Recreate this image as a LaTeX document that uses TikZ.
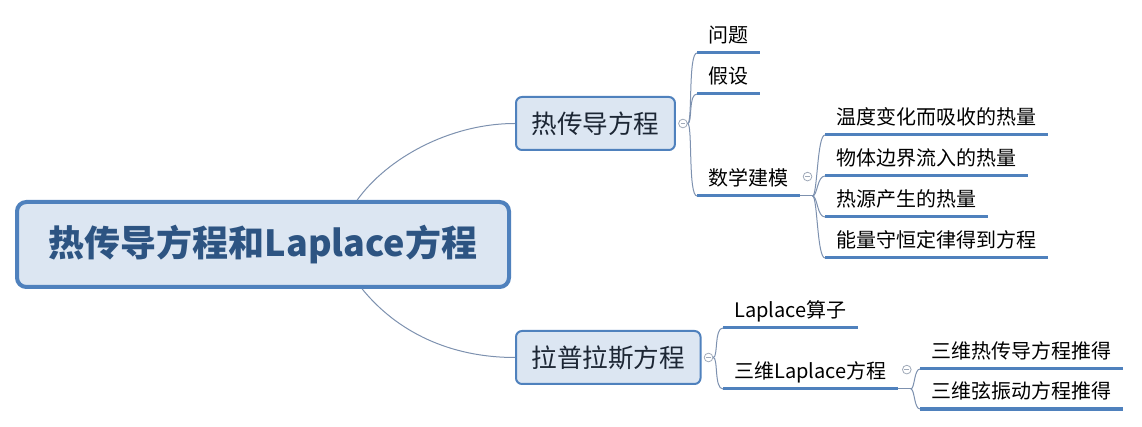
\documentclass[tikz,border=0pt]{standalone}
\usepackage{fontspec}
\setmainfont{Noto Sans CJK SC}
\usepackage{tikz}
\usetikzlibrary{positioning,calc}
\definecolor{boxblue}{RGB}{79,129,189}
\definecolor{boxfill}{RGB}{220,230,242}
\definecolor{roottext}{RGB}{45,84,130}
\definecolor{midtext}{RGB}{28,38,52}
\definecolor{linkc}{RGB}{125,145,175}
\definecolor{foldc}{RGB}{160,170,185}

\begin{document}
\begin{tikzpicture}[x=0.75pt, y=-0.75pt,
    rootbox/.style={draw=boxblue, line width=3pt, fill=boxfill, rounded corners=7pt, minimum width=369pt, minimum height=63.75pt, text=roottext, font=\fontsize{27}{32}\selectfont\bfseries},
    topic/.style={draw=boxblue, line width=1.5pt, fill=boxfill, rounded corners=4.5pt, minimum height=39.75pt, inner xsep=11.6pt, text=midtext, font=\fontsize{19.2}{23}\selectfont, anchor=west},
    leaf/.style={anchor=south west, inner xsep=8.25pt, inner ysep=8pt, text depth=0pt, font=\fontsize{15}{18}\selectfont},
    uline/.style={draw=boxblue, line width=2.25pt},
    link/.style={draw=linkc, line width=0.75pt},
    fold/.style={circle, draw=foldc, line width=0.6pt, minimum size=6.5pt, inner sep=0pt, fill=white,
        path picture={\draw[foldc, line width=0.6pt] ([xshift=1.5pt]path picture bounding box.west) -- ([xshift=-1.5pt]path picture bounding box.east);}}]
        \useasboundingbox (0,0) rectangle (1142,427);

        \node[rootbox] (root) at (263,244.5) {热传导方程和Laplace方程};
        \node[topic] (hot) at (515,123.5) {热传导方程};
        \node[topic] (lap) at (515,357.5) {拉普拉斯方程};

        \node[leaf] (wenti) at (697,53) {问题};
        \node[leaf] (jiashe) at (697,94) {假设};
        \node[leaf] (jianmo) at (697,196) {数学建模};
        \node[leaf] (xishou) at (825,135) {温度变化而吸收的热量};
        \node[leaf] (liuru) at (825,176) {物体边界流入的热量};
        \node[leaf] (reyuan) at (825,217) {热源产生的热量};
        \node[leaf] (shouheng) at (825,258) {能量守恒定律得到方程};

        \node[leaf] (suanzi) at (723,328) {Laplace算子};
        \node[leaf] (sanwei) at (723,389) {三维Laplace方程};
        \node[leaf] (rechuan) at (920,369) {三维热传导方程推得};
        \node[leaf] (xian) at (920,409) {三维弦振动方程推得};

        \foreach \n in {wenti,jiashe,jianmo,xishou,liuru,reyuan,shouheng,suanzi,sanwei,rechuan,xian}
            \draw[uline] (\n.south west) -- (\n.south east);

        \node[fold] (c1) at ($(hot.east)+(7,0)$) {};
        \node[fold] (c2) at ($(lap.east)+(7,0)$) {};
        \node[fold] (c3) at ($(jianmo.east)+(8,0)$) {};
        \node[fold] (c4) at ($(sanwei.east)+(9,0)$) {};
        \coordinate (b3) at ($(jianmo.south east)+(13,0)$);
        \coordinate (b4) at ($(sanwei.south east)+(13,0)$);

        \draw[link] ($(root.north west)!0.69!(root.north east)$) .. controls +(30,-42) and +(-65,0) .. (hot.west);
        \draw[link] ($(root.south west)!0.7!(root.south east)$) .. controls +(35,43) and +(-65,0) .. (lap.west);

        \foreach \n in {wenti,jiashe,jianmo}
            \draw[link] (c1.east) .. controls +(5,0) and +(-9,0) .. (\n.south west);
        \foreach \n in {suanzi,sanwei}
            \draw[link] (c2.east) .. controls +(5,0) and +(-9,0) .. (\n.south west);

        \draw[link] (jianmo.south east) -- (b3);
        \foreach \n in {xishou,liuru,reyuan,shouheng}
            \draw[link] (b3) .. controls +(5,0) and +(-8,0) .. (\n.south west);
        \draw[link] (sanwei.south east) -- (b4);
        \foreach \n in {rechuan,xian}
            \draw[link] (b4) .. controls +(4,0) and +(-6,0) .. (\n.south west);
    \end{tikzpicture}
\end{document}
